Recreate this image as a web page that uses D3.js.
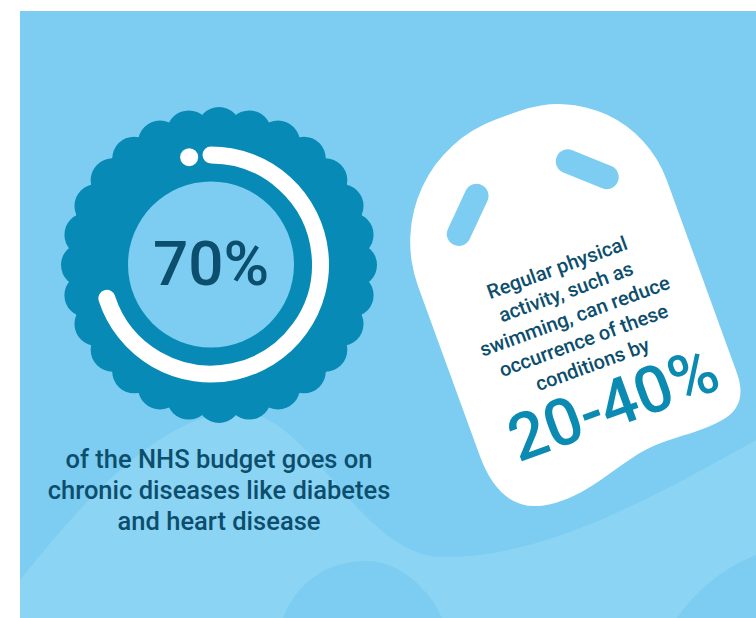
<!DOCTYPE html>
<html>
<head>
<meta charset="utf-8">
<script src="https://cdn.jsdelivr.net/npm/d3@7"></script>
<style>
  body { margin: 0; background: #fff; }
  svg { display: block; }
  text { font-family: Roboto, "Noto Sans", sans-serif; }
</style>
</head>
<body>
<svg id="viz"></svg>
<script>
const width = 756, height = 618;

// values
const budgetShare = [70];            // % of NHS budget
const budgetLabel = ["70%"];
const captionLines = ["of the NHS budget goes on", "chronic diseases like diabetes", "and heart disease"];
const tagLines = ["Regular physical", "activity, such as", "swimming, can reduce", "occurrence of these", "conditions by"];
const reductionRange = [20, 40];     // % reduction

const bg = "#7ccdf1", bgLight = "#8bd4f3", teal = "#078bb6", dark = "#0c4e6d", tagTeal = "#0b8ab2";

const svg = d3.select("#viz")
  .attr("width", width)
  .attr("height", height);

// backdrop
svg.append("rect")
  .attr("x", 20).attr("y", 11)
  .attr("width", width - 20).attr("height", height - 11)
  .attr("fill", bg);

svg.append("path")
  .attr("d", "M20,580 C80,505 160,412 240,412 C310,412 360,556 442,557 C540,558 640,505 756,440 L756,618 L20,618 Z")
  .attr("fill", bgLight);

svg.append("path")
  .attr("d", "M283,618 C300,575 335,561 367,561 C400,561 430,590 442,618 Z M677,618 C700,585 730,565 756,555 L756,618 Z")
  .attr("fill", bg);

// ---- badge ----
const badge = svg.append("g").attr("transform", "translate(219,265)");
const nBumps = 28;

badge.append("circle").attr("r", 151).attr("fill", teal);
badge.selectAll("circle.bump")
  .data(d3.range(nBumps))
  .enter().append("circle")
  .attr("class", "bump")
  .attr("r", 22)
  .attr("cx", d => 136 * Math.sin(d / nBumps * 2 * Math.PI))
  .attr("cy", d => -136 * Math.cos(d / nBumps * 2 * Math.PI))
  .attr("fill", teal);

const ring = svg.append("g").attr("transform", "translate(211,264.5)");
const ringR = 109.5;
const angle = d3.scaleLinear().domain([0, 100]).range([0, 2 * Math.PI]);

ring.append("circle").attr("r", 83).attr("fill", bg);

ring.selectAll("path.share")
  .data(budgetShare)
  .enter().append("path")
  .attr("class", "share")
  .attr("d", d => {
    const p = d3.path();
    p.arc(0, 0, ringR, angle(0) - Math.PI / 2, angle(d) - Math.PI / 2);
    return p.toString();
  })
  .attr("fill", "none")
  .attr("stroke", "#fff")
  .attr("stroke-width", 17)
  .attr("stroke-linecap", "round");

const dotA = -11.5 * Math.PI / 180;
ring.append("circle")
  .attr("cx", ringR * Math.sin(dotA))
  .attr("cy", -ringR * Math.cos(dotA))
  .attr("r", 9)
  .attr("fill", "#fff");

ring.selectAll("text.big")
  .data(budgetLabel)
  .enter().append("text")
  .attr("class", "big")
  .attr("y", 20)
  .attr("text-anchor", "middle")
  .attr("font-size", 62)
  .attr("font-weight", 500)
  .attr("fill", dark)
  .text(d => d);

svg.append("g").selectAll("text")
  .data(captionLines)
  .enter().append("text")
  .attr("x", 219)
  .attr("y", (d, i) => 468 + i * 31)
  .attr("text-anchor", "middle")
  .attr("font-size", 25.5)
  .attr("font-weight", 500)
  .attr("fill", dark)
  .text(d => d);

// ---- kickboard tag ----
const tag = svg.append("g").attr("transform", "translate(562,287) rotate(-20)");

tag.append("path")
  .attr("d", "M-135,130 L-135,-50 A130,130 0 0 1 -5,-180 L20,-180 A115,115 0 0 1 135,-65 L135,140 " +
             "Q135,176 104,180 C70,185 45,176 10,184 C-25,192 -55,206 -92,199 Q-135,190 -135,130 Z")
  .attr("fill", "#fff");

[[-64, -100, -45], [64, -102, 42]].forEach(h => {
  tag.append("rect")
    .attr("x", -33).attr("y", -12)
    .attr("width", 66).attr("height", 24)
    .attr("rx", 12)
    .attr("transform", `translate(${h[0]},${h[1]}) rotate(${h[2]})`)
    .attr("fill", bg);
});

tag.selectAll("text.line")
  .data(tagLines)
  .enter().append("text")
  .attr("class", "line")
  .attr("x", 2)
  .attr("y", (d, i) => -13 + i * 25.75)
  .attr("text-anchor", "middle")
  .attr("font-size", 20)
  .attr("font-weight", 500)
  .attr("fill", dark)
  .text(d => d);

tag.append("text")
  .datum(reductionRange)
  .attr("x", 8)
  .attr("y", 150)
  .attr("text-anchor", "middle")
  .attr("font-size", 65)
  .attr("font-weight", 500)
  .attr("fill", tagTeal)
  .text(d => d[0] + "-" + d[1] + "%");
</script>
</body>
</html>
